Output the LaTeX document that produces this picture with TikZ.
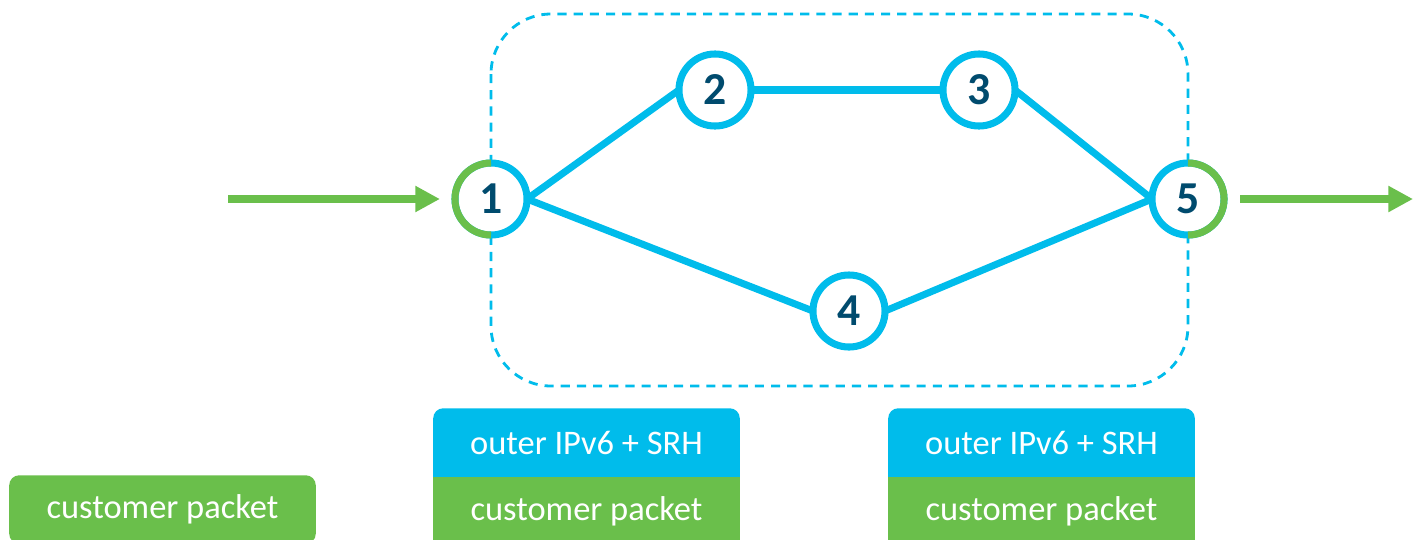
\documentclass[tikz,border=0pt]{standalone}
\usepackage{fontspec}
\setmainfont{Carlito}
\usetikzlibrary{arrows.meta,backgrounds,positioning}
\definecolor{srcyan}{HTML}{00BCEB}
\definecolor{srgreen}{HTML}{6ABF4B}
\definecolor{srnavy}{HTML}{004B6E}

\begin{document}
\begin{tikzpicture}[x=0.01cm, y=-0.01cm,
    router/.style={circle, draw=srcyan, line width=2pt, fill=white, minimum size=0.72cm,
        inner sep=0pt, outer sep=0pt, text=srnavy, font=\fontsize{13}{15}\selectfont\bfseries},
    link/.style={srcyan, line width=2pt},
    flow/.style={srgreen, line width=2pt, -{Triangle[length=7pt,width=7pt]}},
    box/.style={minimum width=3.05cm, minimum height=0.67cm, inner sep=0pt,
        text=white, font=\fontsize{9.8}{11}\selectfont}]
    \useasboundingbox (0,0) rectangle (1413,539);

    % routers
    \node [router] (n1) at (491,199) {1};
    \node [router] (n2) at (715,90) {2};
    \node [router] (n3) at (979,90) {3};
    \node [router] (n4) at (849,311) {4};
    \node [router] (n5) at (1188,199) {5};

    % edge routers: half green
    \draw [srgreen, line width=2pt] (n1.90) arc [start angle=90, end angle=270, radius=0.36cm];
    \draw [srgreen, line width=2pt] (n5.90) arc [start angle=90, end angle=-90, radius=0.36cm];

    % packets
    \node [box] (pkt0) at (162.5,509.5) {customer packet};
    \node [box] (hdr1) at (586.5,442.5) {outer IPv6 + SRH};
    \node [box, below=0pt of hdr1] (pkt1) {customer packet};
    \node [box] (hdr2) at (1041.5,442.5) {outer IPv6 + SRH};
    \node [box, below=0pt of hdr2] (pkt2) {customer packet};

    \begin{scope}[on background layer]
        % SR domain
        \draw [srcyan, line width=0.8pt, dash pattern=on 2.6pt off 2pt, rounded corners=0.6cm]
            (491,14) rectangle (1188,386);
        % links
        \draw [link] (n1.east) -- (n2.west);
        \draw [link] (n2.east) -- (n3.west);
        \draw [link] (n3.east) -- (n5.west);
        \draw [link] (n1.east) -- (n4.west);
        \draw [link] (n4.east) -- (n5.west);
        % packet boxes
        \fill [srgreen, rounded corners=0.1cm] (pkt0.north west) rectangle (pkt0.south east);
        \foreach \i in {1,2} {
            \fill [srcyan, rounded corners=0.1cm] (hdr\i.north west) rectangle ([yshift=-0.15cm]hdr\i.south east);
            \fill [srgreen] (pkt\i.north west) rectangle (pkt\i.south east);
        }
    \end{scope}

    % customer flow
    \coordinate (src) at (228,199);
    \coordinate (dst) at (1413,199);
    \draw [flow, shorten >=0.15cm] (src) -- (n1);
    \draw [flow, shorten <=0.16cm] (n5) -- (dst);
\end{tikzpicture}
\end{document}
